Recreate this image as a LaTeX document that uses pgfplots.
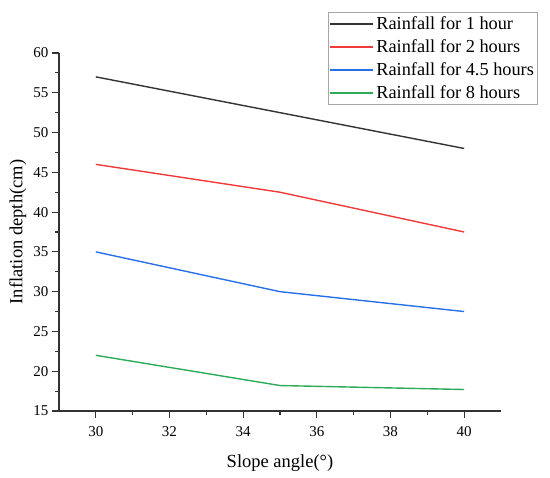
\documentclass[border=0pt]{standalone}
\usepackage{pgfplots}
\pgfplotsset{compat=1.18}
\usepackage{fontspec}
\setmainfont{Liberation Serif}
\definecolor{cblack}{HTML}{333333}
\definecolor{cred}{HTML}{F03A3A}
\definecolor{cblue}{HTML}{2870E8}
\definecolor{cgreen}{HTML}{2DAA5A}
\definecolor{axgray}{HTML}{333333}
\pgfplotsset{mylegend/.style={legend image code/.code={%
  \draw[mark repeat=2,mark phase=2,##1,line width=2pt] plot coordinates {(0pt,0pt) (21.5pt,0pt) (43pt,0pt)};}}}
\begin{document}
\begin{tikzpicture}
\useasboundingbox (-59pt,-67pt) rectangle (491pt,411pt);
\begin{axis}[
  at={(0pt,0pt)}, anchor=south west,
  scale only axis,
  width=442pt, height=358pt,
  xmin=29, xmax=41, ymin=15, ymax=60,
  axis x line=bottom, axis y line=left,
  axis line style={-, draw=axgray, line width=1.2pt},
  xtick={30,32,...,40}, ytick={15,20,...,60},
  minor x tick num=1, minor y tick num=1,
  tick align=outside,
  major tick length=7pt, minor tick length=4pt,
  tick style={draw=axgray, line width=1.1pt},
  /pgf/number format/assume math mode=true,
  ticklabel style={font=\fontsize{15}{18}\selectfont, text=black},
  xticklabel style={yshift=-5pt},
  xlabel={Slope angle(°)},
  ylabel={Inflation depth(cm)},
  label style={font=\fontsize{18.5}{22}\selectfont},
  xlabel style={at={(axis description cs:0.5,-0.145)}, anchor=center},
  ylabel style={at={(axis description cs:-0.093,0.5)}, anchor=center, rotate=0},
  legend style={at={(axis description cs:0.609,1.1145)}, anchor=north west,
    draw=gray!70, font=\fontsize{18.3}{21}\selectfont,
    inner xsep=1pt, inner ysep=2.5pt, row sep=4.6pt, cells={anchor=west}},
  mylegend,
  legend cell align=left,
]
\addplot[color=cblack, draw=cblack, line width=1.4pt] coordinates {(30,57) (35,52.5) (40,48)};
\addlegendentry{Rainfall for 1 hour}
\addplot[color=cred, draw=cred, line width=1.4pt] coordinates {(30,46) (35,42.5) (40,37.5)};
\addlegendentry{Rainfall for 2 hours}
\addplot[color=cblue, draw=cblue, line width=1.4pt] coordinates {(30,35) (35,30) (40,27.5)};
\addlegendentry{Rainfall for 4.5 hours}
\addplot[color=cgreen, draw=cgreen, line width=1.4pt] coordinates {(30,22) (35,18.2) (40,17.7)};
\addlegendentry{Rainfall for 8 hours}
\end{axis}
\end{tikzpicture}
\end{document}
